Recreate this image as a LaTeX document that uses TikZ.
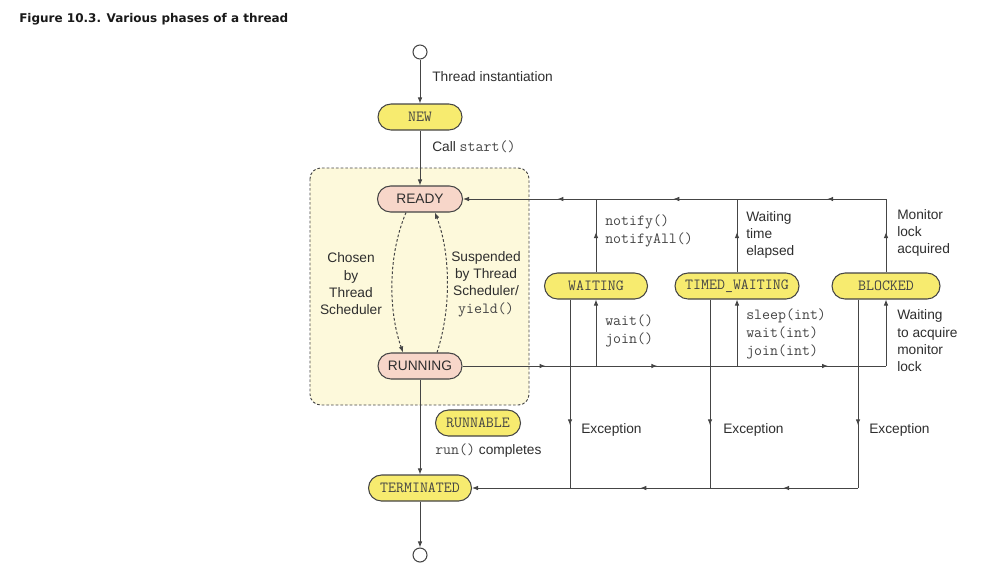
\documentclass[tikz,border=0pt]{standalone}
\usepackage{fontspec}
\setmainfont{Liberation Sans}
\newfontfamily\titlefont{DejaVu Sans}
\usetikzlibrary{arrows.meta,decorations.markings}
\definecolor{nodey}{HTML}{F7EB6F}
\definecolor{pinkn}{HTML}{F7D6C9}
\definecolor{boxy}{HTML}{FDF9DB}
\definecolor{ln}{HTML}{454545}
\definecolor{txt}{HTML}{2E2E2E}
\definecolor{mtxt}{HTML}{444444}
\newcommand{\lab}{\fontsize{10.3}{13}\selectfont}
\newcommand{\mon}{\ttfamily\fontsize{11.6}{13.5}\selectfont\color{mtxt}}
\begin{document}
\begin{tikzpicture}[x=0.75pt,y=-0.75pt,
  st/.style={draw=ln, line width=0.8pt, rounded corners=9.75pt, minimum height=19.5pt, inner sep=0pt},
  ystate/.style={st, fill=nodey, font=\mon},
  pstate/.style={st, fill=pinkn, font=\lab, text=txt},
  circ/.style={circle, draw=ln, line width=0.8pt, fill=white, minimum size=10.5pt, inner sep=0pt},
  wire/.style={draw=ln, line width=0.75pt},
  conn/.style={wire, -{Latex[length=4.5pt,width=3.5pt]}},
  ma/.style={postaction={decorate, decoration={markings, mark=at position #1 with {\arrow{Latex[length=4.5pt,width=3.5pt]}}}}},
  lab/.style={font=\lab, text=txt, inner sep=0pt, align=left},
  mlab/.style={font=\mon, inner sep=0pt, align=left}]
\useasboundingbox (0,0) rectangle (1002,575);
\node[anchor=west, inner sep=0pt, text=black!90, font=\titlefont\bfseries\fontsize{9}{11}\selectfont] (title) at (19,19) {Figure 10.3. Various phases of a thread};
% runnable region
\draw[draw=ln, line width=0.7pt, dash pattern=on 2pt off 1.5pt, fill=boxy, rounded corners=8pt] (310,168) rectangle (529,405);
% states
\node[circ] (start) at (420,52) {};
\node[ystate, minimum width=63pt] (new) at (420,117) {NEW};
\node[pstate, minimum width=63.75pt] (ready) at (420,199) {READY};
\node[pstate, minimum width=63pt] (running) at (420,366) {RUNNING};
\node[ystate, minimum width=77.25pt] (waiting) at (596,286) {WAITING};
\node[ystate, minimum width=93pt] (timed) at (737,286) {TIMED\_WAITING};
\node[ystate, minimum width=81pt] (blocked) at (886,286) {BLOCKED};
\node[ystate, minimum width=63.75pt] (runnable) at (478,423) {RUNNABLE};
\node[ystate, minimum width=77.25pt] (term) at (420,488) {TERMINATED};
\node[circ] (end) at (420,555) {};
% junctions
\coordinate (tr) at (886,199);
\coordinate (wt) at (596,199);
\coordinate (tt) at (737,199);
\coordinate (wb) at (596,366);
\coordinate (tb) at (737,366);
\coordinate (br) at (886,366);
\coordinate (wl) at (570,488);
\coordinate (tl) at (710,488);
\coordinate (bl) at (858,488);
% main flow
\draw[conn] (start) -- (new);
\draw[conn] (new) -- (ready);
\draw[conn] (running) -- (term);
\draw[conn] (term) -- (end);
% scheduler curves
\draw[wire, dash pattern=on 2pt off 1.5pt, -{Latex[length=4.5pt,width=3.5pt]}] ([xshift=-10.5pt]ready.south) .. controls (388,255) and (388,310) .. ([xshift=-12.75pt]running.north);
\draw[wire, dash pattern=on 2pt off 1.5pt, -{Latex[length=4.5pt,width=3.5pt]}] ([xshift=12.75pt]running.north) .. controls (451,310) and (451,255) .. ([xshift=11.25pt]ready.south);
% top return line
\draw[conn, ma=0.139, ma=0.503, ma=0.777] (tr) -- (ready.east);
% running line
\draw[wire, ma=0.196, ma=0.46, ma=0.863] (running.east) -- (br);
% up lines
\draw[conn] (wb) -- (waiting);
\draw[wire, ma=0.55] (waiting) -- (wt);
\draw[conn] (tb) -- (timed);
\draw[wire, ma=0.55] (timed) -- (tt);
\draw[conn] (br) -- (blocked);
\draw[wire, ma=0.55] (blocked) -- (tr);
% exception lines
\draw[wire, ma=0.667] (wl |- waiting.south) -- (wl);
\draw[wire, ma=0.667] (tl |- timed.south) -- (tl);
\draw[wire, ma=0.667] (bl |- blocked.south) -- (bl);
\draw[conn, ma=0.194, ma=0.564] (bl) -- (term.east);
% labels
\node[lab, anchor=west] (lthread) at (432,77) {Thread instantiation};
\node[lab, anchor=west] (lstart) at (432,147) {Call {\mon start()}};
\node[lab, align=center] (lchosen) at (351,284) {Chosen\\by\\Thread\\Scheduler};
\node[lab, align=center] (lsusp) at (486,284) {Suspended\\by Thread\\Scheduler/\\{\mon yield()}};
\node[mlab, anchor=west] (lnotify) at (605,231) {notify()\\notifyAll()};
\node[lab, anchor=west] (lelapsed) at (746,235) {Waiting\\time\\elapsed};
\node[lab, anchor=west] (lmonitor) at (897,233) {Monitor\\lock\\acquired};
\node[mlab, anchor=west] (lwait) at (605,331) {wait()\\join()};
\node[mlab, anchor=west] (lsleep) at (746,333.5) {sleep(int)\\wait(int)\\join(int)};
\node[lab, anchor=west] (lacq) at (897,341) {Waiting\\to acquire\\monitor\\lock};
\node[lab, anchor=west] (lrun) at (435,451) {{\mon run()} completes};
\node[lab, anchor=west] (ex1) at (581,430) {Exception};
\node[lab, anchor=west] (ex2) at (723,430) {Exception};
\node[lab, anchor=west] (ex3) at (869,430) {Exception};
\end{tikzpicture}
\end{document}
